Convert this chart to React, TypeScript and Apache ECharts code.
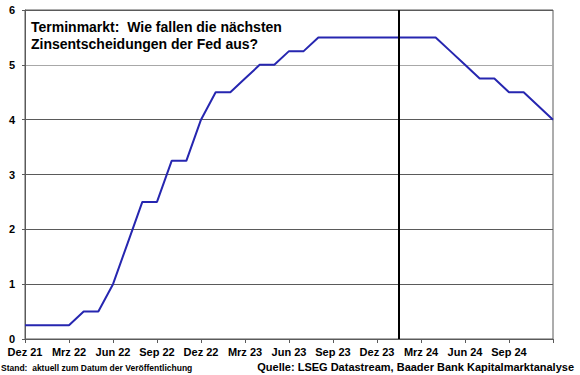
import React, { useEffect, useRef } from "react";
import * as echarts from "echarts";

const tickLabels = ["Dez 21", "Mrz 22", "Jun 22", "Sep 22", "Dez 22", "Mrz 23", "Jun 23", "Sep 23", "Dez 23", "Mrz 24", "Jun 24", "Sep 24", "Dez 24"];
// month index 0 = Dez 21 ... 36 = Dez 24
const monthIndex = Array.from({ length: 37 }, (_, i) => i);
const fedRate = [
  0.25, 0.25, 0.25, 0.25, 0.5, 0.5, 1.0, 1.75, 2.5, 2.5, 3.25, 3.25, 4.0,
  4.5, 4.5, 4.75, 5.0, 5.0, 5.25, 5.25, 5.5, 5.5, 5.5, 5.5, 5.5, 5.5,
  5.5, 5.5, 5.5, 5.25, 5.0, 4.75, 4.75, 4.5, 4.5, 4.25, 4.0,
];
const todayMarker = 25.45;
const titleText = "Terminmarkt:  Wie fallen die nächsten\nZinsentscheidungen der Fed aus?";
const noteText = "Stand:  aktuell zum Datum der Veröffentlichung";
const sourceText = "Quelle: LSEG Datastream, Baader Bank Kapitalmarktanalyse";

const FONT = "'Liberation Sans', Arial, sans-serif";

export default function App() {
  const ref = useRef<HTMLDivElement>(null);
  useEffect(() => {
    if (!ref.current) return;
    document.body.style.margin = "0";
    const chart = echarts.init(ref.current, null, { renderer: "svg" });
    const gridDark = "#5a5a5a";
    const gridLight = "#a8a8a8";
    chart.setOption({
      animation: false,
      backgroundColor: "#ffffff",
      textStyle: { fontFamily: FONT },
      title: {
        text: titleText,
        left: 31,
        top: 18,
        padding: 0,
        textStyle: { fontFamily: FONT, fontSize: 14, fontWeight: "bold", color: "#000", lineHeight: 17 },
      },
      grid: { left: 25, right: 27, top: 10, bottom: 36, show: true, borderColor: gridDark, borderWidth: 1, containLabel: false },
      xAxis: {
        type: "value",
        min: 0,
        max: 36,
        interval: 3,
        axisLine: { show: true, lineStyle: { color: gridDark, width: 1 } },
        axisTick: { show: true, length: 4, lineStyle: { color: gridDark } },
        splitLine: { show: false },
        axisLabel: {
          margin: 7,
          fontFamily: FONT,
          fontSize: 11,
          fontWeight: "bold",
          color: "#000",
          formatter: (v: number) => (v / 3 < tickLabels.length - 1 ? tickLabels[Math.round(v / 3)] : ""),
        },
      },
      yAxis: {
        type: "value",
        min: 0,
        max: 6,
        interval: 1,
        axisLine: { show: true, lineStyle: { color: gridDark, width: 1 } },
        axisTick: { show: true, length: 3, lineStyle: { color: gridDark } },
        splitLine: {
          show: true,
          lineStyle: { color: [gridDark, gridDark, gridDark, gridDark, gridDark, gridLight, gridDark], width: 1 },
        },
        axisLabel: { margin: 10, fontFamily: FONT, fontSize: 11, fontWeight: "bold", color: "#000" },
      },
      series: [
        {
          type: "line",
          data: monthIndex.map((m, i) => [m, fedRate[i]]),
          showSymbol: false,
          symbol: "none",
          lineStyle: { color: "#2626b0", width: 2 },
          markLine: {
            silent: true,
            symbol: ["none", "none"],
            label: { show: false },
            lineStyle: { color: "#000", width: 2, type: "solid" },
            data: [{ xAxis: todayMarker }],
          },
        },
      ],
      graphic: [
        {
          type: "text",
          left: 1,
          top: 363,
          style: { text: noteText, font: `bold 8.5px ${FONT}`, fill: "#000" },
        },
        {
          type: "text",
          right: 6,
          top: 361,
          style: { text: sourceText, font: `bold 11px ${FONT}`, fill: "#000" },
        },
      ],
    });
    return () => chart.dispose();
  }, []);
  return <div ref={ref} style={{ width: 580, height: 375 }} />;
}
